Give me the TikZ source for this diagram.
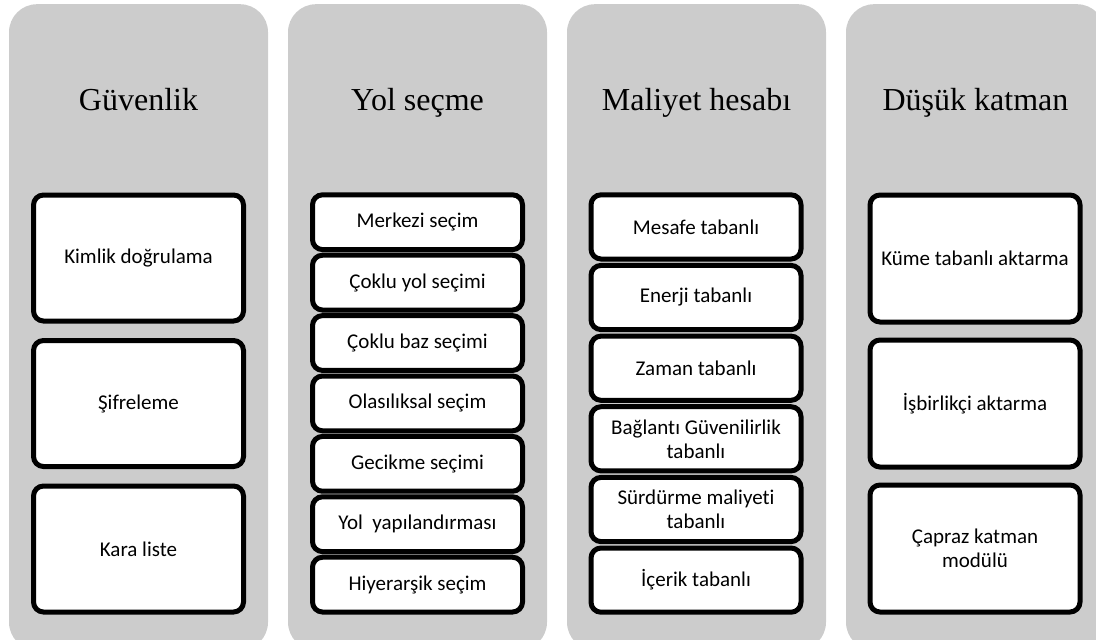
\documentclass[tikz,border=0pt]{standalone}
\usepackage{fontspec}
\setmainfont{Liberation Serif}
\newfontfamily\boxfont[Ligatures=NoCommon]{Carlito}
\definecolor{colbg}{RGB}{204,204,204}
\definecolor{ink}{RGB}{0,0,0}
\begin{document}
\begin{tikzpicture}[x=1pt,y=-1pt,
  column/.style={fill=colbg, draw=none, rounded corners=28pt,
    minimum width=259pt, minimum height=646pt, anchor=north, inner sep=0pt},
  header/.style={anchor=base, font=\fontsize{32}{38}\selectfont, text=ink, inner sep=0pt},
  item/.style={draw=ink, fill=white, line width=5pt, rounded corners=10pt,
    minimum width=210pt, align=center, inner sep=2pt, outer sep=0pt,
    font=\boxfont\fontsize{21}{24}\selectfont, text=ink},
]
\useasboundingbox (0,0) rectangle (1096,640);
\clip (0,0) rectangle (1096,640);

% grey columns
\node[column] (c1) at (138.5,4) {};
\node[column] (c2) at (417.5,4) {};
\node[column] (c3) at (696.5,4) {};
\node[column] (c4) at (975.5,4) {};

% column titles
\node[header] (h1) at (138.5,110) {Güvenlik};
\node[header] (h2) at (417.5,110) {Yol seçme};
\node[header] (h3) at (696.5,110) {Maliyet hesabı};
\node[header] (h4) at (975.5,110) {Düşük katman};

% first column: three tall boxes
\begin{scope}[every node/.append style={item, minimum height=126pt}]
  \node (g1) at (138.5,258)   {Kimlik doğrulama};
  \node (g2) at (138.5,403.5) {Şifreleme};
  \node (g3) at (138.5,549)   {Kara liste};
\end{scope}

% second column: seven short boxes
\begin{scope}[every node/.append style={item, minimum height=54.8pt}]
  \node (y1) at (417.5,222.2) {Merkezi seçim};
  \node (y2) at (417.5,282.6) {Çoklu yol seçimi};
  \node (y3) at (417.5,343.0) {Çoklu baz seçimi};
  \node (y4) at (417.5,403.4) {Olasılıksal seçim};
  \node (y5) at (417.5,463.8) {Gecikme seçimi};
  \node (y6) at (417.5,524.2) {Yol~ yapılandırması};
  \node (y7) at (417.5,584.6) {Hiyerarşik seçim};
\end{scope}

% third column: six boxes
\begin{scope}[every node/.append style={item, minimum height=64.2pt}]
  \node (m1) at (696,226.9) {Mesafe tabanlı};
  \node (m2) at (696,297.5) {Enerji tabanlı};
  \node (m3) at (696,368.2) {Zaman tabanlı};
  \node (m4) at (696,438.8) {Bağlantı Güvenilirlik\\tabanlı};
  \node (m5) at (696,509.5) {Sürdürme maliyeti\\tabanlı};
  \node (m6) at (696,580.1) {İçerik tabanlı};
\end{scope}

% fourth column: three tall boxes
\begin{scope}[every node/.append style={item, minimum height=127pt}]
  \node (k1) at (975,258.5) {Küme tabanlı aktarma};
  \node (k2) at (975,403.5) {İşbirlikçi aktarma};
  \node (k3) at (975,548.5) {Çapraz katman\\modülü};
\end{scope}
\end{tikzpicture}
\end{document}
